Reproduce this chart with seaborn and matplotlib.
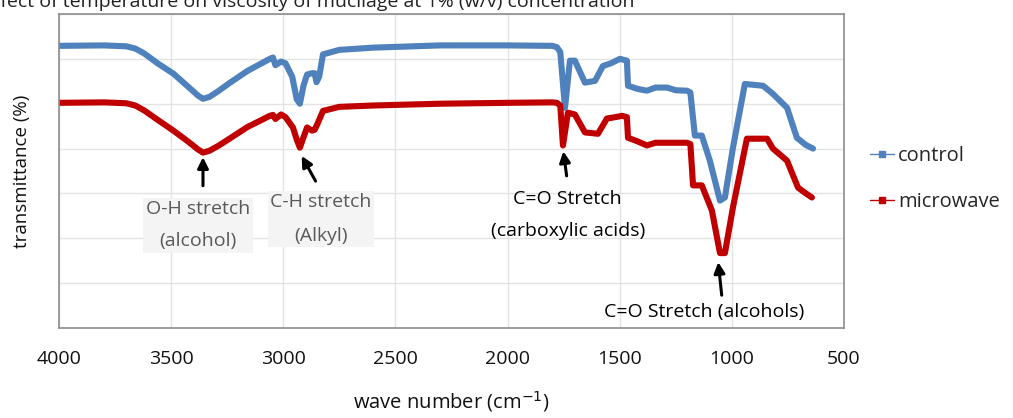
import matplotlib
matplotlib.use("Agg")
import matplotlib.pyplot as plt
from matplotlib.lines import Line2D
import pandas as pd
import seaborn as sns

# FTIR spectra (wave number, transmittance in arbitrary %)
control_wn = [4000, 3800, 3700, 3660, 3620, 3560, 3490, 3420, 3380, 3358, 3330, 3290,
              3240, 3160, 3060, 3046, 3035, 3010, 2990, 2960, 2940, 2926, 2910, 2894,
              2872, 2860, 2852, 2840, 2823, 2750, 2600, 2300, 2000, 1800, 1780, 1765,
              1744, 1722, 1700, 1655, 1610, 1575, 1540, 1499, 1468, 1463, 1420, 1379,
              1340, 1289, 1250, 1200, 1185, 1165, 1134, 1098, 1053, 1031, 995, 942,
              900, 861, 817, 754, 710, 670, 638]
control_val = [62.9, 63.0, 62.8, 62.3, 61.2, 59.0, 56.7, 53.6, 51.8, 51.1, 51.5, 52.8,
               54.6, 57.3, 60.0, 60.3, 58.6, 59.4, 59.0, 56.0, 51.0, 50.0, 54.0, 56.5,
               56.8, 56.8, 54.8, 56.0, 61.0, 62.0, 62.5, 63.0, 63.0, 62.9, 62.6, 61.5,
               49.1, 59.6, 59.6, 54.7, 55.1, 58.4, 59.0, 60.0, 59.6, 54.0, 53.3, 52.9,
               53.6, 53.6, 53.0, 52.9, 52.5, 42.9, 42.9, 37.3, 28.4, 29.1, 40.2, 54.4,
               54.2, 54.0, 52.2, 49.1, 42.4, 40.8, 40.0]

microwave_wn = [4000, 3800, 3700, 3660, 3620, 3560, 3490, 3420, 3380, 3358, 3330, 3290,
                3240, 3160, 3060, 3046, 3035, 3010, 2990, 2957, 2940, 2926, 2910, 2894,
                2872, 2860, 2845, 2823, 2750, 2600, 2300, 2000, 1800, 1780, 1765, 1753,
                1731, 1700, 1655, 1597, 1557, 1520, 1490, 1468, 1463, 1420, 1379, 1340,
                1289, 1250, 1200, 1185, 1173, 1134, 1089, 1053, 1031, 995, 933, 900,
                843, 817, 754, 705, 670, 643]
microwave_val = [50.2, 50.3, 50.1, 49.6, 48.5, 46.4, 44.0, 41.4, 39.8, 39.1, 39.5, 40.6,
                 42.2, 44.8, 47.3, 47.5, 46.6, 47.6, 47.0, 44.7, 42.0, 40.2, 42.5, 44.7,
                 44.0, 44.2, 45.8, 48.4, 49.3, 49.6, 50.0, 50.2, 50.3, 50.2, 49.6, 40.7,
                 48.0, 47.6, 43.6, 43.3, 46.7, 47.0, 47.3, 47.0, 42.4, 41.6, 40.7, 41.3,
                 41.3, 41.3, 41.3, 41.0, 31.8, 31.8, 26.2, 16.7, 16.7, 26.9, 42.2, 42.2,
                 42.2, 40.0, 37.3, 31.3, 30.0, 29.1]

series_names = ["control", "microwave"]
series_colors = ["#4F81BD", "#C00000"]
x_ticks = [4000, 3500, 3000, 2500, 2000, 1500, 1000, 500]

df = pd.concat([
    pd.DataFrame({"wave": control_wn, "T": control_val, "series": "control"}),
    pd.DataFrame({"wave": microwave_wn, "T": microwave_val, "series": "microwave"}),
])

sns.set_style("white")
plt.rcParams["font.family"] = ["Open Sans", "DejaVu Sans"]

fig = plt.figure(figsize=(10.13, 4.18), dpi=100)
ax = fig.add_axes([59 / 1013, 90 / 418, 785 / 1013, 314 / 418])

sns.lineplot(
    data=df, x="wave", y="T", hue="series", palette=series_colors,
    hue_order=series_names, linewidth=4.4, sort=False, estimator=None,
    legend=False, ax=ax, solid_joinstyle="round", solid_capstyle="round"
)

ax.set_xlim(4000, 500)
ax.set_ylim(0, 70)
ax.set_xticks(x_ticks)
ax.set_xticklabels([str(t) for t in x_ticks], fontsize=14, color="#111111")
ax.set_yticks(range(0, 71, 10))
ax.set_yticklabels([])
ax.tick_params(axis="both", length=0, pad=16)
ax.grid(True, color="#E3E3E3", linewidth=1)
for side in ax.spines.values():
    side.set_color("#8C8C8C")
    side.set_linewidth(1.2)

ax.set_xlabel("wave number (cm$^{-1}$)", fontsize=14.5, color="#111111", labelpad=15)
ax.set_ylabel("transmittance (%)", fontsize=13.5, color="#111111", labelpad=4)

handles = [Line2D([0], [0], color=c, lw=1, marker="s", markersize=4) for c in series_colors]
fig.legend(handles, series_names, loc="center left", bbox_to_anchor=(0.847, 0.572),
           frameon=False, fontsize=14.5, handlelength=1.2, handletextpad=0.2,
           labelspacing=1.3, borderaxespad=0.2)

arrow = dict(arrowstyle="-|>", color="black", lw=2.2, mutation_scale=16)
ax.annotate("", xy=(3358, 38.7), xytext=(3358, 31.1), arrowprops=arrow)
ax.annotate("", xy=(2924, 38.9), xytext=(2850, 32.2), arrowprops=arrow)
ax.annotate("", xy=(1753, 40.0), xytext=(1735, 33.3), arrowprops=arrow)
ax.annotate("", xy=(1062, 15.3), xytext=(1044, 6.7), arrowprops=arrow)

gray_box = dict(facecolor="#F4F4F4", edgecolor="none", pad=2)
ax.text(3380, 22.9, "O-H stretch\n(alcohol)", ha="center", va="center", fontsize=14,
        color="#595959", linespacing=2.0, bbox=gray_box)
ax.text(2832, 24.3, "C-H stretch\n(Alkyl)", ha="center", va="center", fontsize=14,
        color="#595959", linespacing=2.1, bbox=gray_box)
ax.text(1732, 25.2, "C=O Stretch\n(carboxylic acids)", ha="center", va="center",
        fontsize=14, color="black", linespacing=2.0)
ax.text(1124, 3.5, "C=O Stretch (alcohols)", ha="center", va="center", fontsize=14,
        color="black")

fig.text(-0.017, 1 - 7 / 418, "Effect of temperature on viscosity of mucilage at 1% (w/v) concentration",
         fontsize=14, color="#222222", va="baseline", ha="left")

fig.savefig("out.png", dpi=100)
plt.close(fig)
